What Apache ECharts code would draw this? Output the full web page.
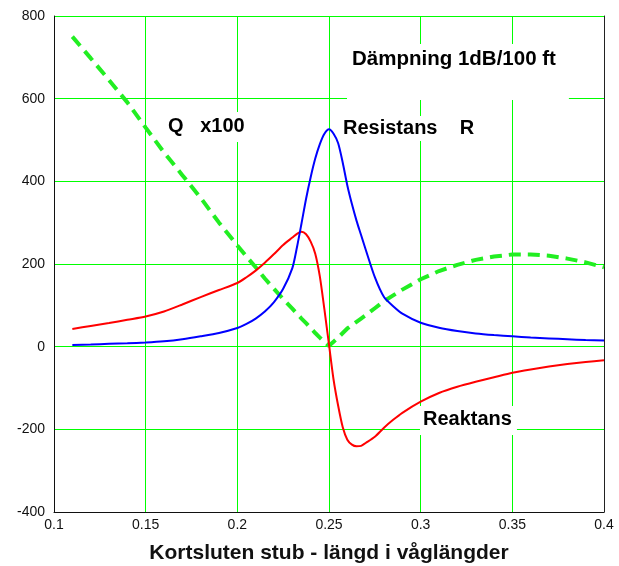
<!DOCTYPE html>
<html><head><meta charset="utf-8">
<script src="https://cdn.jsdelivr.net/npm/echarts@6/dist/echarts.min.js"></script>
<style>html,body{margin:0;padding:0;background:#fff}#c{width:619px;height:566px}</style>
</head><body><div id="c"></div>
<script>
// Stub length (wavelengths)
var xs = [0.11,0.12,0.13,0.14,0.15,0.16,0.17,0.18,0.19,0.2,0.205,0.21,0.215,0.22,0.225,0.23,0.2325,0.235,0.2375,0.24,0.2425,0.245,0.2475,0.25,0.2525,0.255,0.2575,0.26,0.2625,0.265,0.2675,0.27,0.275,0.28,0.285,0.29,0.3,0.31,0.32,0.33,0.34,0.35,0.36,0.37,0.38,0.39,0.4];
// Q x100 (green dashed)
var qVals = [750,698,645,591,530,470,415,360,300,245,218,192,165,140,115,92,80,68,57,45,33,22,11,2,12,22,33,44,52,60,68,76,93,110,124,138,163,183,198,210,218,223,223,220,213,204,192];
// Resistans R (blue)
var rVals = [4,5,7,8,10,13,18,25,33,45,55,68,85,108,140,190,240,298,358,410,455,490,515,526,515,492,445,390,345,305,270,235,168,120,98,80,58,46,38,32,28,25,22,20,18,16,15];
// Reaktans X (red)
var xVals = [43,50,57,65,73,85,102,120,137,154,168,184,203,224,246,264,273,278,272,254,225,170,90,5,-80,-143,-195,-225,-237,-241,-240,-233,-218,-196,-177,-160,-133,-112,-97,-85,-74,-63,-55,-48,-42,-37,-33];
var xTicks = [0.1,0.15,0.2,0.25,0.3,0.35,0.4];
var yTicks = [-400,-200,0,200,400,600,800];
var xTitle = 'Kortsluten stub - längd i våglängder';
var notes = ['Dämpning 1dB/100 ft','Q   x100','Resistans    R','Reaktans'];

function pairs(v){ return xs.map(function(x,i){ return [x, v[i]]; }); }

var chart = echarts.init(document.getElementById('c'));
var green = '#00ff00';
var font = '"Liberation Sans", Arial, sans-serif';
function note(t, x, y, pad, fs){
  return {type:'text', z:5, left:x, top:y, style:{text:t, fill:'#000', font:'bold '+(fs||20)+'px '+font, backgroundColor:'#fff', padding:pad}};
}
chart.setOption({
  animation:false,
  grid:{left:54,right:15,top:16,bottom:54,show:false,containLabel:false,outerBoundsMode:'none'},
  xAxis:{type:'value',min:xTicks[0],max:xTicks[xTicks.length-1],interval:0.05,
    axisLine:{show:true,onZero:false,lineStyle:{color:'#111',width:1}},
    axisTick:{show:false},
    axisLabel:{color:'#111',fontFamily:font,fontSize:14,margin:6,formatter:function(v){return String(+v.toFixed(2));}},
    splitLine:{show:true,lineStyle:{color:green,width:1}},
    name:xTitle,nameLocation:'middle',nameGap:31,
    nameTextStyle:{fontFamily:font,fontSize:21,fontWeight:'bold',color:'#111'}},
  yAxis:[{type:'value',min:yTicks[0],max:yTicks[yTicks.length-1],interval:200,
    axisLine:{show:true,onZero:false,lineStyle:{color:'#111',width:1}},
    axisTick:{show:false},
    axisLabel:{color:'#111',fontFamily:font,fontSize:14,margin:9},
    splitLine:{show:true,lineStyle:{color:green,width:1}}},
    {type:'value',position:'right',min:-400,max:800,interval:200,
    axisLine:{show:true,lineStyle:{color:'#222',width:1}},axisTick:{show:false},axisLabel:{show:false},splitLine:{show:false}}],
  series:[
    {type:'line',data:pairs(qVals),showSymbol:false,smooth:false,z:3,
      lineStyle:{color:'#22ee22',width:4,type:[12,7]}},
    {type:'line',data:pairs(xVals),showSymbol:false,smooth:0.25,z:4,
      lineStyle:{color:'#ff0000',width:2}},
    {type:'line',data:pairs(rVals),showSymbol:false,smooth:0.25,z:4,
      lineStyle:{color:'#0000ff',width:2}}
  ],
  graphic:[
    note(notes[0],347,44,[5,13,30,5],20.5),
    note(notes[1],162,112,[4,8,6,6]),
    note(notes[2],340,116,[2,6,3,3]),
    note(notes[3],420,406,[3,5,6,3])
  ]
});
</script></body></html>
